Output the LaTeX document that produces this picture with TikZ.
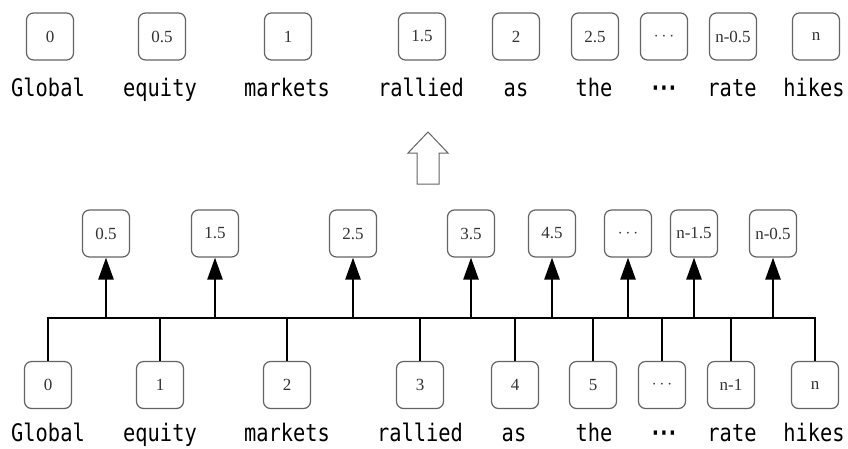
\documentclass[tikz,border=0pt]{standalone}
\usepackage{fontspec}
\setmainfont{Liberation Serif}
\setmonofont{DejaVu Sans Mono}
\usetikzlibrary{arrows.meta}

\definecolor{boxgray}{RGB}{100,100,100}
\newcommand{\wdots}{{\bfseries ·\kern-4pt·\kern-4pt·}}
\newcommand{\tallword}[1]{\scalebox{0.97}[1.15]{#1}}

\tikzset{
  numbox/.style={draw=boxgray, line width=1.2pt, rounded corners=7pt,
    minimum width=47pt, minimum height=47pt, inner sep=1pt,
    text=black!80, font=\fontsize{17}{17}\selectfont},
  word/.style={anchor=base, font=\ttfamily\fontsize{21}{21}\selectfont},
  link/.style={line width=2.6pt},
  up/.style={link, -{Triangle[length=22pt,width=15pt]}},
}

\begin{document}
\begin{tikzpicture}[x=1pt,y=-1pt]
      \path[use as bounding box, fill=white] (0,0) rectangle (848,448);

      % top: positions of the words
      \foreach \x/\t [count=\i] in {50/0, 162/0.5, 288/1, 422/1.5, 516/2, 595/2.5, 664/$\cdots$, 733/n-0.5, 816/n}
        \node[numbox] (t\i) at (\x,36.5) {\t};
      \foreach \x/\w [count=\i] in {48/Global, 160/equity, 287/markets, 421/rallied, 516/as, 594/the, 664/\wdots, 732/rate, 814/hikes}
        \node[word] (tw\i) at (\x,96) {\tallword{\w}};

      % hollow arrow
      \draw[boxgray, line width=1pt] (417,184) -- (417,153) -- (408,153) -- (428,132)
        -- (448,153) -- (439,153) -- (439,184) -- cycle;

      % bottom
      \foreach \x/\t [count=\i] in {106/0.5, 215/1.5, 353/2.5, 471/3.5, 552/4.5, 628/$\cdots$, 694/n-1.5, 773/n-0.5}
        \node[numbox] (u\i) at (\x,233.5) {\t};
      \foreach \x/\t [count=\i] in {48/0, 160/1, 287/2, 420/3, 515/4, 593/5, 662/$\cdots$, 731/n-1, 815/n}
        \node[numbox] (l\i) at (\x,385) {\t};
      \foreach \x/\w [count=\i] in {48/Global, 160/equity, 287/markets, 420/rallied, 514/as, 594/the, 664/\wdots, 732/rate, 814/hikes}
        \node[word] (bw\i) at (\x,441) {\tallword{\w}};

      \coordinate (barL) at (48,318);
      \coordinate (barR) at (815,318);
      \draw[link, line cap=rect] (barL) -- (barR);
      \foreach \i in {1,...,9}
        \draw[link] (l\i.north) -- (l\i |- barL);
      \foreach \i in {1,...,8}
        \draw[up] (u\i |- barL) -- (u\i.south);
    \end{tikzpicture}
\end{document}
